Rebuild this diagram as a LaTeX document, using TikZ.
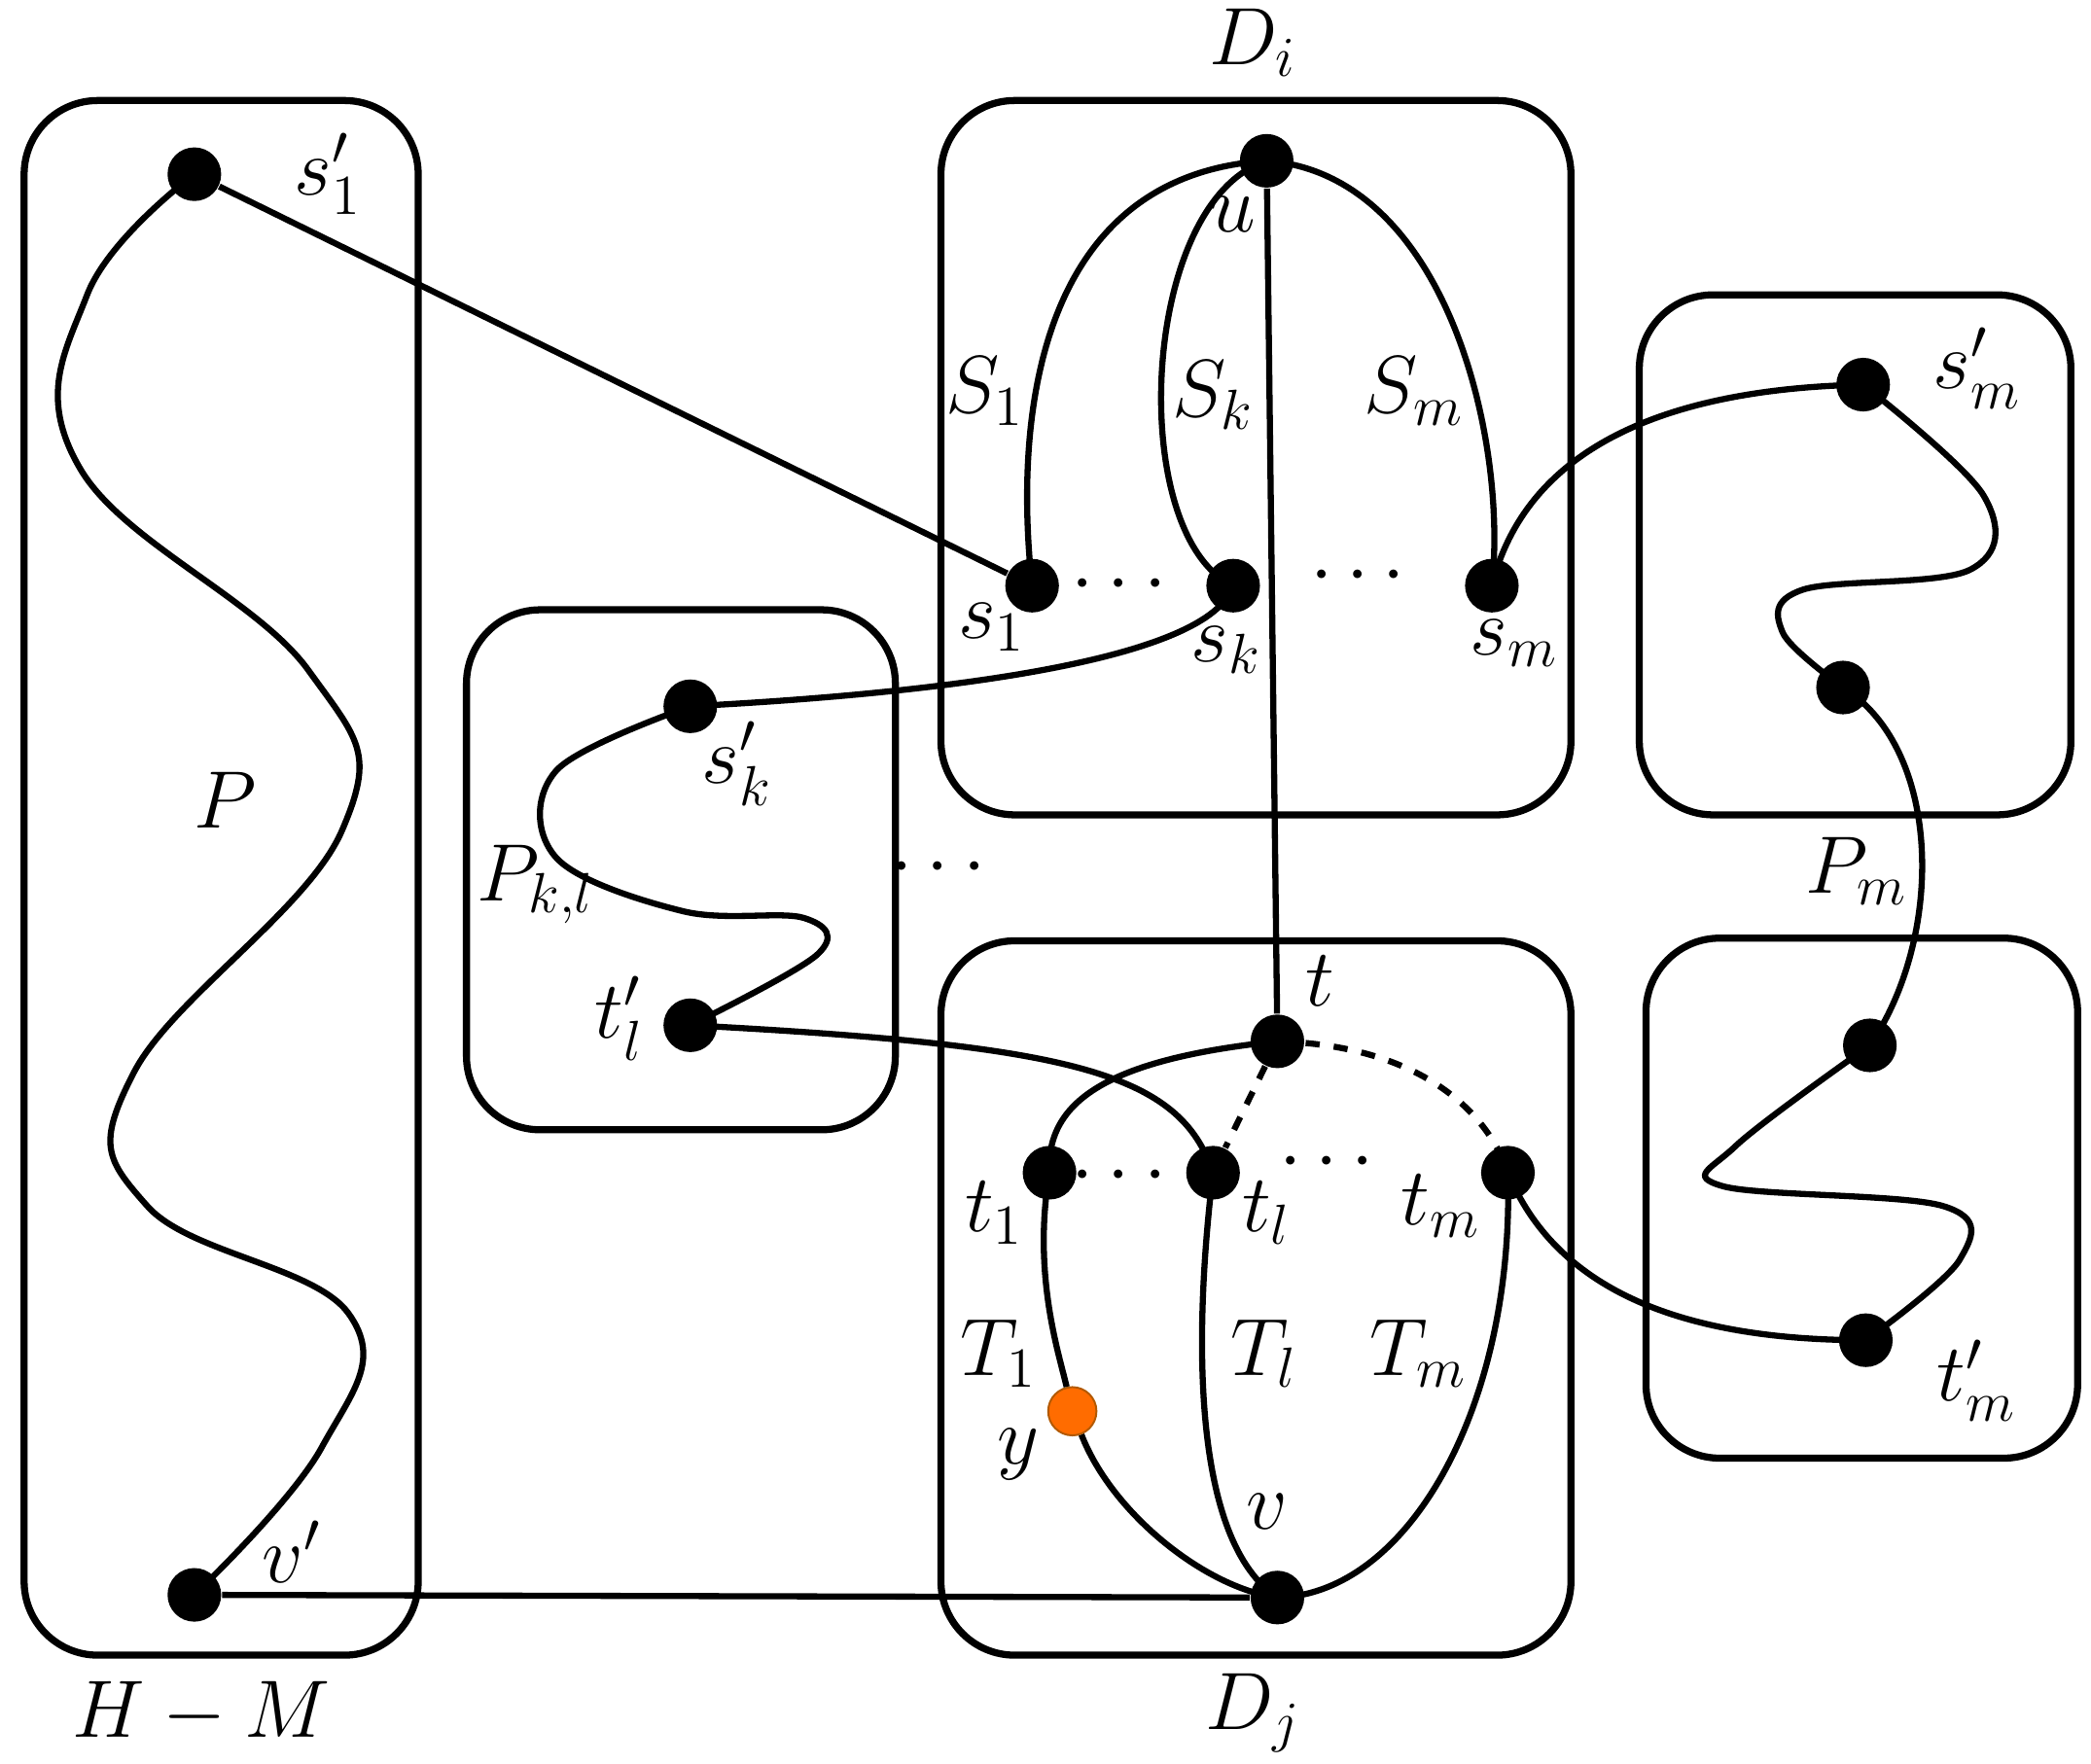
\documentclass[tikz,border=0pt]{standalone}
\usepackage{amsmath}
\begin{document}
\begin{tikzpicture}[x=0.01cm,y=-0.01cm,
  every node/.style={font=\fontsize{17}{20}\selectfont},
  box/.style={line width=1.5pt,rounded corners=0.55cm},
  ln/.style={line width=1.3pt},
  dot/.style={circle,fill=black,inner sep=0pt,minimum size=0.4cm},
  odot/.style={circle,fill=orange!85!red,draw=orange!70!black,inner sep=0pt,minimum size=0.36cm},
  lab/.style={inner sep=1pt}]
\useasboundingbox (0,0) rectangle (1560,1316);
% boxes
\draw[box] (18,75) rectangle (312,1235);
\draw[box] (702,75) rectangle (1172,608);
\draw[box] (1223,220) rectangle (1545,608);
\draw[box] (348,455) rectangle (668,843);
\draw[box] (702,702) rectangle (1172,1235);
\draw[box] (1228,700) rectangle (1550,1088);
% nodes
\node[dot] (s1p) at (145,130) {};
\node[dot] (vp) at (145,1190) {};
\node[dot] (u) at (945,120) {};
\node[dot] (s1) at (770,437) {};
\node[dot] (sk) at (920,437) {};
\node[dot] (sm) at (1113,437) {};
\node[dot] (skp) at (515,527) {};
\node[dot] (tlp) at (515,765) {};
\node[dot] (t) at (953,777) {};
\node[dot] (t1) at (783,875) {};
\node[dot] (tl) at (905,875) {};
\node[dot] (tm) at (1125,875) {};
\node[dot] (v) at (953,1192) {};
\node[dot] (smp) at (1390,287) {};
\node[dot] (pa) at (1375,513) {};
\node[dot] (pb) at (1395,780) {};
\node[dot] (tmp) at (1392,1000) {};
% edges
\draw[ln] (s1p) -- (s1);
\draw[ln] (vp) -- (v);
\draw[ln] (u) -- (t);
\draw[ln] plot[smooth,tension=0.7] coordinates {(145,130) (65,220) (60,350) (230,500) (255,620) (100,800) (110,900) (260,980) (240,1080) (145,1190)};
\draw[ln] (u.center) .. controls (780,130) and (755,300) .. (s1.center);
\draw[ln] (u.center) .. controls (850,150) and (840,400) .. (sk.center);
\draw[ln] (u.center) .. controls (1080,130) and (1125,330) .. (sm.center);
\draw[ln] (sk.center) .. controls (900,500) and (650,520) .. (skp.center);
\draw[ln] plot[smooth,tension=0.6] coordinates {(515,527) (415,575) (415,640) (510,680) (600,685) (610,712) (515,765)};
\draw[ln] (tlp.center) .. controls (800,780) and (880,800) .. (tl.center);
\draw[ln] (t.center) .. controls (830,790) and (780,820) .. (t1.center);
\draw[ln,dashed] (t) -- (tl);
\draw[ln,dashed] (t.center) .. controls (1060,780) and (1110,830) .. (tm.center);
\node[odot] (y) at (800,1053) {};
\draw[ln] (t1.center) .. controls (770,950) and (790,1010) .. (y);
\draw[ln] (y) .. controls (830,1130) and (900,1185) .. (v.center);
\draw[ln] (tl.center) .. controls (890,1000) and (890,1150) .. (v.center);
\draw[ln] (tm.center) .. controls (1130,1050) and (1050,1190) .. (v.center);
\draw[ln] (sm.center) .. controls (1140,330) and (1250,290) .. (smp.center);
\draw[ln] plot[smooth,tension=0.6] coordinates {(1390,287) (1480,370) (1470,425) (1345,440) (1330,472) (1375,513)};
\draw[ln] (pa.center) .. controls (1450,560) and (1450,700) .. (pb.center);
\draw[ln] plot[smooth,tension=0.6] coordinates {(1395,780) (1295,855) (1285,885) (1450,900) (1462,940) (1392,1000)};
\draw[ln] (tm.center) .. controls (1160,960) and (1250,1000) .. (tmp.center);
% labels
\node[lab] (lDi) at (935,32) {$D_i$};
\node[lab] (ls1p) at (245,130) {$s'_1$};
\node[lab] (lu) at (920,160) {$u$};
\node[lab] (lS1) at (735,292) {$S_1$};
\node[lab] (lSk) at (905,295) {$S_k$};
\node[lab] (lSm) at (1055,292) {$S_m$};
\node[lab] (ls1) at (740,468) {$s_1$};
\node[lab] (lsk) at (915,485) {$s_k$};
\node[lab] (lsm) at (1130,480) {$s_m$};
\node[lab] (d1) at (840,437) {$\cdots$};
\node[lab] (d2) at (1018,430) {$\cdots$};
\node[lab] (lP) at (168,597) {$P$};
\node[lab] (lskp) at (550,570) {$s'_k$};
\node[lab] (lPkl) at (400,660) {$P_{k,l}$};
\node[lab] (d3) at (705,648) {$\cdots$};
\node[lab] (ltlp) at (462,760) {$t'_l$};
\node[lab] (lt) at (985,732) {$t$};
\node[lab] (lt1) at (742,905) {$t_1$};
\node[lab] (d4) at (840,878) {$\cdots$};
\node[lab] (ltl) at (945,905) {$t_l$};
\node[lab] (d5) at (995,868) {$\cdots$};
\node[lab] (ltm) at (1075,900) {$t_m$};
\node[lab] (lT1) at (745,1010) {$T_1$};
\node[lab] (lTl) at (943,1010) {$T_l$};
\node[lab] (lTm) at (1058,1010) {$T_m$};
\node[lab] (ly) at (760,1085) {$y$};
\node[lab] (lv) at (945,1128) {$v$};
\node[lab] (lvp) at (218,1158) {$v'$};
\node[lab] (lHM) at (150,1278) {$H-M$};
\node[lab] (lDj) at (935,1278) {$D_j$};
\node[lab] (lsmp) at (1475,275) {$s'_m$};
\node[lab] (lPm) at (1385,650) {$P_m$};
\node[lab] (ltmp) at (1475,1030) {$t'_m$};
\end{tikzpicture}
\end{document}
